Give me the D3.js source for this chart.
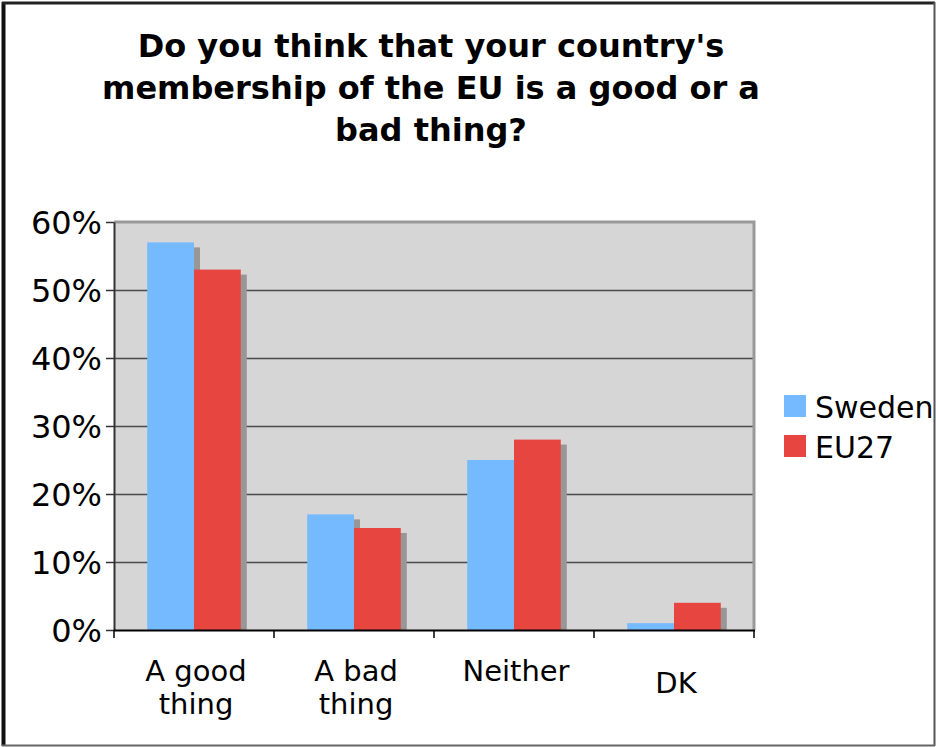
<!DOCTYPE html>
<html lang="en">
  <head>
    <meta charset="UTF-8">
    <title>EU membership chart</title>
    <style>
      body {
        margin: 0;
        background: #fff;
        font-family: 'DejaVu Sans', Verdana, sans-serif;
      }
      svg {
        display: block;
      }
      .title {
        font-family: 'DejaVu Sans', sans-serif;
        font-weight: bold;
        font-size: 32px;
      }
    </style>
  </head>
  <body>
    <div id="chart"></div>

    <script src="https://cdn.jsdelivr.net/npm/d3@7"></script>
    <script>
      const titleLines = ["Do you think that your country's", 'membership of the EU is a good or a', 'bad thing?'];
      const categories = ['A good thing', 'A bad thing', 'Neither', 'DK'];
      const categoryLines = [['A good', 'thing'], ['A bad', 'thing'], ['Neither'], ['DK']];
      const series = ['Sweden', 'EU27'];
      const sweden = [0.57, 0.17, 0.25, 0.01];
      const eu27 = [0.53, 0.15, 0.28, 0.04];
      const yTicks = [0, 0.1, 0.2, 0.3, 0.4, 0.5, 0.6];
      const colors = ['#75b9ff', '#e64540'];

      const width = 936;
      const height = 747;
      const plot = { left: 114, right: 754, top: 222, bottom: 630 };

      const svg = d3.select('#chart').append('svg')
        .attr('width', width)
        .attr('height', height);

      // outer frame
      svg.append('line').attr('x1', 3.5).attr('x2', 3.5).attr('y1', 2).attr('y2', 746)
        .attr('stroke', '#111').attr('stroke-width', 4);
      svg.append('line').attr('x1', 2).attr('x2', 935).attr('y1', 3).attr('y2', 3)
        .attr('stroke', '#222').attr('stroke-width', 3);
      svg.append('line').attr('x1', 934.5).attr('x2', 934.5).attr('y1', 2).attr('y2', 746)
        .attr('stroke', '#555').attr('stroke-width', 2);
      svg.append('line').attr('x1', 2).attr('x2', 935).attr('y1', 745.5).attr('y2', 745.5)
        .attr('stroke', '#666').attr('stroke-width', 2);

      // title
      svg.append('text')
        .attr('class', 'title')
        .attr('text-anchor', 'middle')
        .selectAll('tspan')
        .data(titleLines)
        .join('tspan')
        .attr('x', 431)
        .attr('y', (d, i) => 57 + i * 42)
        .text(d => d);

      const x0 = d3.scaleBand().domain(categories).range([plot.left, plot.right]);
      const x1 = d3.scaleBand().domain(series).range([0, x0.bandwidth()]).paddingOuter(0.71);
      const y = d3.scaleLinear().domain([0, 0.6]).range([plot.bottom, plot.top]);

      // plot background
      svg.append('rect')
        .attr('x', plot.left).attr('y', plot.top)
        .attr('width', plot.right - plot.left).attr('height', plot.bottom - plot.top)
        .attr('fill', '#d6d6d6');

      // gridlines
      svg.append('g')
        .selectAll('line')
        .data(yTicks.filter(t => t > 0 && t < 0.6))
        .join('line')
        .attr('x1', plot.left).attr('x2', plot.right)
        .attr('y1', d => Math.round(y(d)) + 0.5).attr('y2', d => Math.round(y(d)) + 0.5)
        .attr('stroke', '#4a4a4a')
        .attr('stroke-width', 1.5);

      // plot border (top/right)
      svg.append('path')
        .attr('d', `M${plot.left},${plot.top} H${plot.right} V${plot.bottom}`)
        .attr('fill', 'none')
        .attr('stroke', '#999')
        .attr('stroke-width', 3);

      const rows = categories.map((c, i) => ({ cat: c, values: [sweden[i], eu27[i]] }));
      const bars = rows.flatMap(r => r.values.map((v, j) => ({ cat: r.cat, key: series[j], value: v, j })));

      // shadows first, then bars
      svg.append('g')
        .selectAll('rect')
        .data(bars)
        .join('rect')
        .attr('x', d => x0(d.cat) + x1(d.key) + 6)
        .attr('y', d => Math.min(y(d.value) + 5, plot.bottom))
        .attr('width', x1.bandwidth())
        .attr('height', d => Math.max(0, plot.bottom - y(d.value) - 5))
        .attr('fill', '#979797');

      svg.append('g')
        .selectAll('rect')
        .data(bars)
        .join('rect')
        .attr('x', d => x0(d.cat) + x1(d.key))
        .attr('y', d => y(d.value))
        .attr('width', x1.bandwidth())
        .attr('height', d => plot.bottom - y(d.value))
        .attr('fill', d => colors[d.j]);

      // y axis
      const yAxis = svg.append('g')
        .attr('transform', `translate(${plot.left},0)`)
        .call(d3.axisLeft(y).tickValues(yTicks).tickFormat(d3.format('.0%')).tickSize(8).tickSizeOuter(0).tickPadding(4));
      yAxis.select('.domain').attr('stroke', '#333').attr('stroke-width', 2);
      yAxis.selectAll('.tick line').attr('stroke', '#333').attr('stroke-width', 1.5);
      yAxis.selectAll('.tick text')
        .attr('font-family', "'DejaVu Sans', sans-serif")
        .attr('font-size', 32)
        .attr('fill', '#000')
        .attr('dy', '0.36em');

      // x axis line and boundary ticks
      svg.append('line')
        .attr('x1', plot.left).attr('x2', plot.right + 1)
        .attr('y1', plot.bottom + 0.5).attr('y2', plot.bottom + 0.5)
        .attr('stroke', '#000').attr('stroke-width', 2);
      const edges = categories.map(c => x0(c)).concat([x0(categories[categories.length - 1]) + x0.bandwidth()]);
      svg.append('g')
        .selectAll('line')
        .data(edges)
        .join('line')
        .attr('x1', d => d).attr('x2', d => d)
        .attr('y1', plot.bottom).attr('y2', plot.bottom + 8)
        .attr('stroke', '#000').attr('stroke-width', 1.5);

      // category labels
      svg.append('g')
        .selectAll('text')
        .data(categories)
        .join('text')
        .attr('text-anchor', 'middle')
        .attr('font-size', 29)
        .attr('fill', '#000')
        .each(function(c, i) {
          const lines = categoryLines[i];
          const base = i === categories.length - 1 ? 693 : 681;
          d3.select(this).selectAll('tspan')
            .data(lines)
            .join('tspan')
            .attr('x', x0(c) + x0.bandwidth() / 2 + 2)
            .attr('y', (d, k) => base + k * 33)
            .text(d => d);
        });

      // legend
      const legend = svg.append('g')
        .selectAll('g')
        .data(series)
        .join('g')
        .attr('transform', (d, i) => `translate(784,${395 + i * 40})`);
      legend.append('rect')
        .attr('width', 22).attr('height', 22)
        .attr('fill', (d, i) => colors[i]);
      legend.append('text')
        .attr('x', 31).attr('y', 23)
        .attr('font-size', 30)
        .attr('fill', '#000')
        .text(d => d);
    </script>
  </body>
</html>
